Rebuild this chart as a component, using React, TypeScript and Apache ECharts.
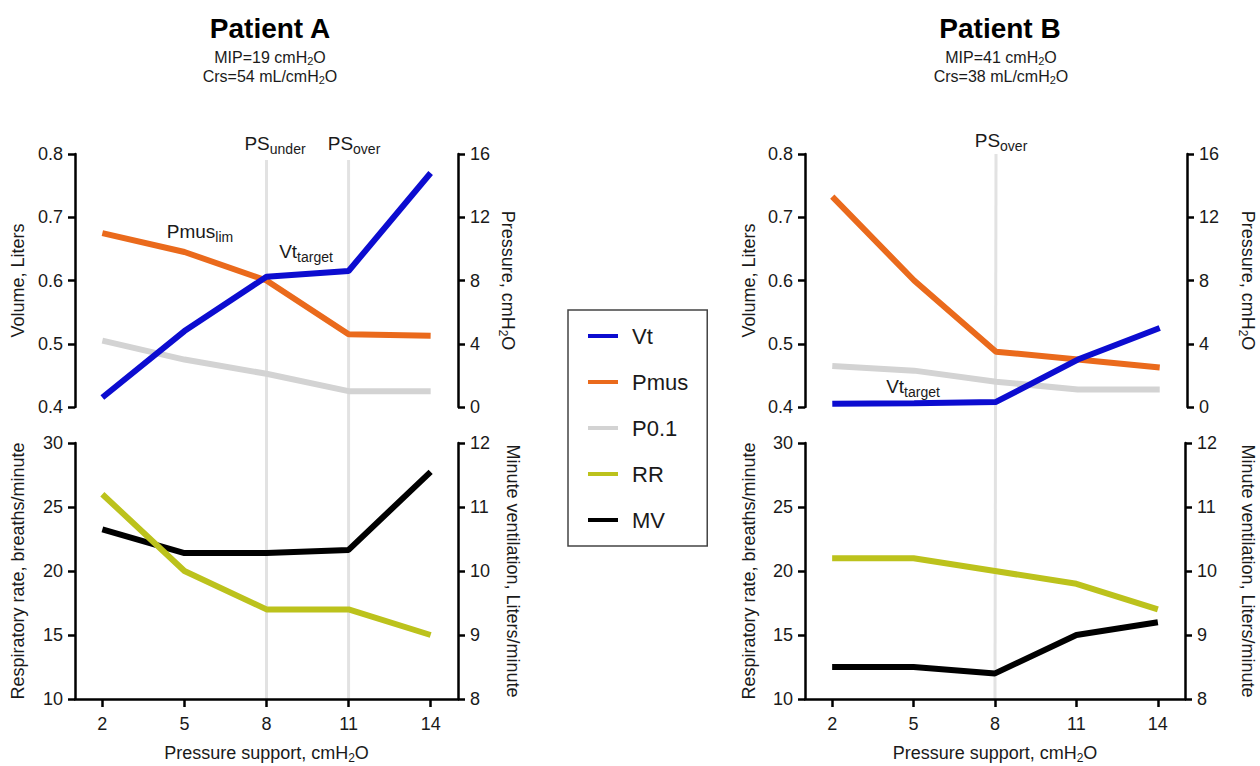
import React, { useEffect, useRef } from 'react';
import * as echarts from 'echarts';

// ---------- data ----------
const pressureSupport = [2, 5, 8, 11, 14];
const xTicks = [2, 5, 8, 11, 14];

// Patient A
const vtA = [0.415, 0.52, 0.606, 0.615, 0.77];
const pmusA = [11.0, 9.8, 8.0, 4.6, 4.5];
const p01A = [4.2, 3.0, 2.1, 1.0, 1.0];
const rrA = [26, 20, 17, 17, 15];
const mvA = [10.65, 10.28, 10.28, 10.33, 11.55];

// Patient B
const vtB = [0.405, 0.406, 0.408, 0.475, 0.525];
const pmusB = [13.3, 8.0, 3.5, 3.0, 2.5];
const p01B = [2.6, 2.3, 1.6, 1.1, 1.1];
const rrB = [21, 21, 20, 19, 17];
const mvB = [8.5, 8.5, 8.4, 9.0, 9.2];

const legendNames = ['Vt', 'Pmus', 'P0.1', 'RR', 'MV'];
const refLinesA = [8, 11];
const refLinesB = [8];

// axis ranges
const X_MIN = 1, X_MAX = 15;
const VOL_MIN = 0.4, VOL_MAX = 0.8, VOL_STEP = 0.1;
const PRES_MIN = 0, PRES_MAX = 16, PRES_STEP = 4;
const RR_MIN = 10, RR_MAX = 30, RR_STEP = 5;
const MV_MIN = 8, MV_MAX = 12, MV_STEP = 1;

const COLORS: Record<string, string> = {
  Vt: '#0c0cd0',
  Pmus: '#ea6a1c',
  'P0.1': '#d3d3d3',
  RR: '#bcc21c',
  MV: '#000000',
};

const FONT = '"Liberation Sans", Arial, Helvetica, sans-serif';
const TXT = '#1a1a1a';

const axisRich = {
  s: { fontSize: 12, fontFamily: FONT, color: TXT, lineHeight: 22, padding: [10, 0, 0, 0] },
};

function yAxis(gridIndex: number, position: 'left' | 'right', min: number, max: number, interval: number, name: string, nameGap: number, fmt?: (v: number) => string) {
  return {
    type: 'value',
    gridIndex,
    position,
    min,
    max,
    interval,
    name,
    nameLocation: 'middle',
    nameGap,
    nameRotate: position === 'left' ? 90 : -90,
    nameTextStyle: { fontSize: 18, color: TXT, fontFamily: FONT, lineHeight: 22, rich: axisRich },
    axisLine: { show: true, onZero: false, lineStyle: { color: '#000', width: 2.5 } },
    axisTick: { show: true, length: 7, lineStyle: { color: '#000', width: 2.5 } },
    axisLabel: { fontSize: 18, color: TXT, fontFamily: FONT, margin: 12, formatter: fmt },
    splitLine: { show: false },
  };
}

function xAxis(gridIndex: number, visible: boolean) {
  return {
    type: 'value',
    gridIndex,
    min: X_MIN,
    max: X_MAX,
    show: visible,
    name: visible ? 'Pressure support, cmH{s|2}O' : '',
    nameLocation: 'middle',
    nameGap: 43,
    nameTextStyle: { fontSize: 18, color: TXT, fontFamily: FONT, lineHeight: 22, rich: axisRich },
    axisLine: { show: true, onZero: false, lineStyle: { color: '#000', width: 2.5 } },
    axisTick: { show: true, customValues: xTicks, length: 8, lineStyle: { color: '#000', width: 2.5 } },
    axisLabel: { show: true, customValues: xTicks, fontSize: 18, color: TXT, fontFamily: FONT, margin: 16 },
    splitLine: { show: false },
  };
}

function series(name: string, xAxisIndex: number, yAxisIndex: number, values: number[], z: number) {
  return {
    type: 'line',
    name,
    xAxisIndex,
    yAxisIndex,
    data: pressureSupport.map((x, i) => [x, values[i]]),
    symbol: 'none',
    showSymbol: false,
    silent: true,
    z,
    lineStyle: { color: COLORS[name], width: 6 },
    itemStyle: { color: COLORS[name] },
  };
}

const volFmt = (v: number) => v.toFixed(1);

const option: any = {
  animation: false,
  backgroundColor: '#ffffff',
  textStyle: { fontFamily: FONT },
  grid: [
    { left: 75, top: 154, width: 383, height: 253 },
    { left: 75, top: 443, width: 383, height: 256 },
    { left: 805, top: 154, width: 385, height: 253 },
    { left: 805, top: 443, width: 385, height: 256 },
  ],
  xAxis: [xAxis(0, false), xAxis(1, true), xAxis(2, false), xAxis(3, true)],
  yAxis: [
    yAxis(0, 'left', VOL_MIN, VOL_MAX, VOL_STEP, 'Volume, Liters', 46, volFmt),
    yAxis(0, 'right', PRES_MIN, PRES_MAX, PRES_STEP, 'Pressure, cmH{s|2}O', 39),
    yAxis(1, 'left', RR_MIN, RR_MAX, RR_STEP, 'Respiratory rate, breaths/minute', 46),
    yAxis(1, 'right', MV_MIN, MV_MAX, MV_STEP, 'Minute ventilation, Liters/minute', 44),
    yAxis(2, 'left', VOL_MIN, VOL_MAX, VOL_STEP, 'Volume, Liters', 45, volFmt),
    yAxis(2, 'right', PRES_MIN, PRES_MAX, PRES_STEP, 'Pressure, cmH{s|2}O', 50),
    yAxis(3, 'left', RR_MIN, RR_MAX, RR_STEP, 'Respiratory rate, breaths/minute', 45),
    yAxis(3, 'right', MV_MIN, MV_MAX, MV_STEP, 'Minute ventilation, Liters/minute', 52),
  ],
  legend: {
    data: legendNames.map((n) => ({ name: n, itemStyle: { color: COLORS[n] } })),
    orient: 'vertical',
    left: 568,
    top: 310,
    icon: 'rect',
    itemWidth: 30,
    itemHeight: 4,
    itemGap: 22,
    padding: [14, 19, 14, 20],
    borderColor: '#444',
    borderWidth: 1.5,
    selectedMode: false,
    textStyle: { fontSize: 22, lineHeight: 24, color: TXT, fontFamily: FONT, padding: [0, 0, 0, 9] },
  },
  series: [
    series('P0.1', 0, 1, p01A, 2),
    series('Pmus', 0, 1, pmusA, 3),
    series('Vt', 0, 0, vtA, 4),
    series('MV', 1, 3, mvA, 3),
    series('RR', 1, 2, rrA, 4),
    series('P0.1', 2, 5, p01B, 2),
    series('Pmus', 2, 5, pmusB, 3),
    series('Vt', 2, 4, vtB, 4),
    series('MV', 3, 7, mvB, 3),
    series('RR', 3, 6, rrB, 4),
  ],
};

// ---------- annotation texts ----------
const labelRich = {
  s: { fontSize: 14, fontFamily: FONT, fill: TXT, lineHeight: 24, padding: [12, 0, 0, 0] },
};
const infoRich = {
  s: { fontSize: 11, fontFamily: FONT, fill: TXT, lineHeight: 20, padding: [8, 0, 0, 0] },
};

function text(x: number, y: number, t: string, fontSize: number, opts: any = {}) {
  return {
    type: 'text',
    x,
    y,
    z: 10,
    silent: true,
    style: {
      text: t,
      fontSize,
      fontFamily: FONT,
      fontWeight: opts.bold ? 'bold' : 'normal',
      fill: opts.bold ? '#000' : TXT,
      align: 'center',
      verticalAlign: 'middle',
      lineHeight: opts.lineHeight,
      rich: opts.rich,
    },
  };
}

const annotations = [
  text(270, 28, 'Patient A', 28, { bold: true }),
  text(270, 57, 'MIP=19 cmH{s|2}O', 16, { rich: infoRich, lineHeight: 20 }),
  text(270, 76, 'Crs=54 mL/cmH{s|2}O', 16, { rich: infoRich, lineHeight: 20 }),
  text(1000, 28, 'Patient B', 28, { bold: true }),
  text(1001, 57, 'MIP=41 cmH{s|2}O', 16, { rich: infoRich, lineHeight: 20 }),
  text(1001, 76, 'Crs=38 mL/cmH{s|2}O', 16, { rich: infoRich, lineHeight: 20 }),
  text(275, 143, 'PS{s|under}', 19, { rich: labelRich, lineHeight: 24 }),
  text(354, 143, 'PS{s|over}', 19, { rich: labelRich, lineHeight: 24 }),
  text(1001, 140, 'PS{s|over}', 19, { rich: labelRich, lineHeight: 24 }),
  text(200, 231, 'Pmus{s|lim}', 19, { rich: labelRich, lineHeight: 24 }),
  text(306, 251, 'Vt{s|target}', 19, { rich: labelRich, lineHeight: 24 }),
  text(913, 386, 'Vt{s|target}', 19, { rich: labelRich, lineHeight: 24 }),
];

export default function App() {
  const ref = useRef<HTMLDivElement>(null);
  useEffect(() => {
    const chart = echarts.init(ref.current!, null, { renderer: 'svg' });
    chart.setOption(option);

    const makeLines = (xs: number[], topX: number, topY: number, botX: number, botY: number, offset: number) =>
      xs.map((v) => {
        const t = chart.convertToPixel({ xAxisIndex: topX, yAxisIndex: topY }, [v, VOL_MAX]) as number[];
        const b = chart.convertToPixel({ xAxisIndex: botX, yAxisIndex: botY }, [v, RR_MIN]) as number[];
        return {
          type: 'line',
          z: 0,
          silent: true,
          shape: { x1: t[0], y1: t[1] + offset, x2: b[0], y2: b[1] },
          style: { stroke: '#e2e2e2', lineWidth: 3 },
        };
      });

    const lines = [
      ...makeLines(refLinesA, 0, 0, 1, 2, 6),
      ...makeLines(refLinesB, 2, 4, 3, 6, 0),
    ];

    chart.setOption({ graphic: { elements: [...lines, ...annotations] } });
    return () => chart.dispose();
  }, []);

  return (
    <div
      ref={ref}
      style={{ position: 'fixed', left: 0, top: 0, width: 1260, height: 766, background: '#fff' }}
    />
  );
}
